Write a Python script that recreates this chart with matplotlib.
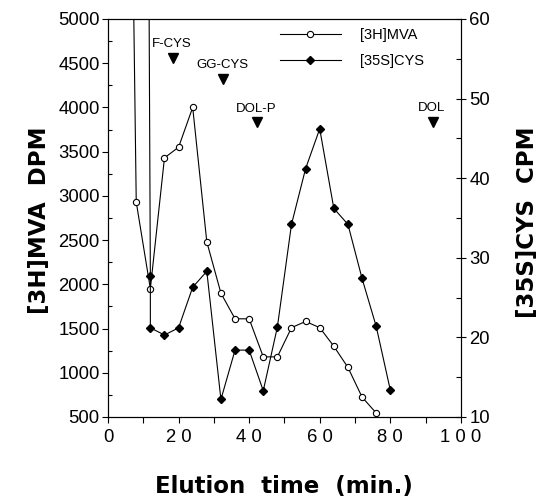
import matplotlib
matplotlib.use("Agg")
import matplotlib.pyplot as plt
from matplotlib.ticker import MultipleLocator, FixedLocator, FixedFormatter

# ---- data ----
mva_time = [4, 8, 12, 16, 20, 24, 28, 32, 36, 40, 44, 48, 52, 56, 60, 64, 68, 72, 76]
mva_dpm = [15000, 2930, 1950, 3430, 3550, 4000, 2480, 1900, 1610, 1610, 1180, 1180,
           1510, 1580, 1510, 1300, 1060, 725, 545]

cys_time = [11.5, 12, 12, 16, 20, 24, 28, 32, 36, 40, 44, 48, 52, 56, 60, 64, 68, 72, 76, 80]
cys_cpm = [75, 27.7, 21.2, 20.3, 21.2, 26.3, 28.3, 12.2, 18.4, 18.4, 13.3, 21.3,
           34.2, 41.2, 46.2, 36.2, 34.2, 27.4, 21.4, 13.4]

std_labels = ["F-CYS", "GG-CYS", "DOL-P", "DOL"]
std_times = [18.5, 32.7, 42.3, 92.0]
std_heights = [4560, 4320, 3830, 3840]

x_ticks = [0, 20, 40, 60, 80, 100]
x_ticklabels = ["0", "2 0", "4 0", "6 0", "8 0", "1 0 0"]

legend_labels = ["[3H]MVA", "[35S]CYS"]

# ---- figure ----
fig = plt.figure(figsize=(5.39, 4.97), dpi=100)
ax = fig.add_axes([0.2004, 0.161, 0.6546, 0.8008])
ax2 = ax.twinx()

tick_font = dict(family="Liberation Sans", size=13.3)
label_font = dict(family="DejaVu Sans", weight="bold", size=16.5)

l1, = ax.plot(mva_time, mva_dpm, color="black", lw=0.8, marker="o", ms=4.5,
              mfc="white", mec="black", mew=0.8, zorder=3)
l2, = ax2.plot(cys_time, cys_cpm, color="black", lw=0.8, marker="D", ms=3.8,
               mfc="black", mec="black", zorder=3)

ax.set_xlim(0, 100)
ax.set_ylim(500, 5000)
ax2.set_ylim(10, 60)

# x axis
ax.xaxis.set_major_locator(FixedLocator(x_ticks))
ax.xaxis.set_major_formatter(FixedFormatter(x_ticklabels))
ax.xaxis.set_minor_locator(MultipleLocator(10))
ax.tick_params(axis="x", which="both", direction="out", length=4, width=0.8, pad=5)
for t in ax.get_xticklabels():
    t.set_fontfamily(tick_font["family"]); t.set_fontsize(tick_font["size"])

# left y axis
ax.yaxis.set_major_locator(MultipleLocator(500))
ax.yaxis.set_minor_locator(MultipleLocator(250))
ax.tick_params(axis="y", which="major", direction="out", length=4, width=0.8, pad=2)
ax.tick_params(axis="y", which="minor", direction="in", length=3, width=0.8)
for t in ax.get_yticklabels():
    t.set_fontfamily(tick_font["family"]); t.set_fontsize(tick_font["size"])

# right y axis
ax2.yaxis.set_major_locator(MultipleLocator(10))
ax2.yaxis.set_minor_locator(MultipleLocator(5))
ax2.tick_params(axis="y", which="major", direction="inout", length=7, width=0.8, pad=2.5)
ax2.tick_params(axis="y", which="minor", direction="in", length=3.5, width=0.8)
for t in ax2.get_yticklabels():
    t.set_fontfamily(tick_font["family"]); t.set_fontsize(tick_font["size"])

for a in (ax, ax2):
    for s in a.spines.values():
        s.set_linewidth(0.8)

ax.set_xlabel("Elution  time  (min.)", **label_font)
ax.xaxis.set_label_coords(0.4986, -0.145)
ax.set_ylabel("[3H]MVA  DPM", **label_font)
ax.yaxis.set_label_coords(-0.163, 0.495)
ax2.set_ylabel("[35S]CYS  CPM", rotation=90, **label_font)
ax2.yaxis.set_label_coords(1.155, 0.49)

# standards markers
ax.plot(std_times, std_heights, linestyle="none", marker="v", ms=7, color="black",
        clip_on=False, zorder=4)
for lab, t, h in zip(std_labels, std_times, std_heights):
    ax.annotate(lab, (t, h), xytext=(-1, 10), textcoords="offset points",
                ha="center", va="center", fontfamily="Liberation Sans",
                fontsize=9.5)

leg = ax2.legend([l1, l2], legend_labels, loc="upper left",
                 bbox_to_anchor=(0.487, 0.977), frameon=False, borderpad=0,
                 borderaxespad=0, handlelength=4.2, handletextpad=1.3,
                 labelspacing=0.8, prop=dict(family="Liberation Sans", size=10.5))

fig.savefig("out.png", dpi=100)
